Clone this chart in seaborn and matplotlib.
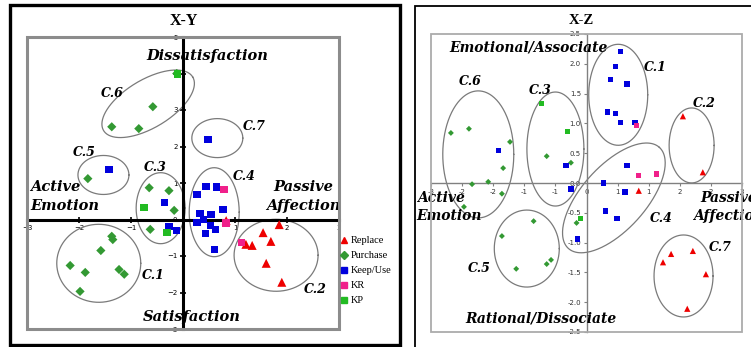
import matplotlib
matplotlib.use("Agg")
import matplotlib.pyplot as plt
from matplotlib.patches import Rectangle
from matplotlib.lines import Line2D
import numpy as np
import pandas as pd
import seaborn as sns

# ---------------- X-Y panel data ----------------
xy_replace_x = [0.83, 1.85, 1.54, 1.69, 1.21, 1.33, 1.60, 1.90]
xy_replace_y = [-0.03, -0.14, -0.36, -0.60, -0.68, -0.71, -1.20, -1.72]
xy_purchase_x = [-0.12, -0.58, -1.37, -0.85, -1.83, -0.65, -0.27, -0.17, -0.63,
                 -1.37, -1.35, -1.58, -2.17, -1.88, -1.23, -1.13, -1.98]
xy_purchase_y = [4.00, 3.09, 2.54, 2.49, 1.12, 0.87, 0.79, 0.25, -0.27,
                 -0.46, -0.55, -0.85, -1.26, -1.45, -1.37, -1.50, -1.97]
xy_keep_x = [0.48, -1.42, -0.35, -0.27, -0.13, 0.27, 0.44, 0.64, 0.77, 0.33,
             0.54, 0.39, 0.27, 0.53, 0.63, 0.43, 0.60]
xy_keep_y = [2.19, 1.37, 0.46, -0.19, -0.30, 0.69, 0.90, 0.89, 0.27, 0.16,
             0.14, 0.00, -0.08, -0.17, -0.27, -0.38, -0.82]
xy_kr_x = [0.79, 0.83, 1.12]
xy_kr_y = [0.82, -0.10, -0.63]
xy_kp_x = [-0.10, -0.75, -0.31]
xy_kp_y = [3.99, 0.33, -0.36]

# ---------------- X-Z panel data ----------------
xz_replace_x = [1.55, 1.87, 0.84, 1.36, 1.23, 1.71, 1.92, 1.62]
xz_replace_z = [1.12, 0.18, -0.13, -1.19, -1.33, -1.14, -1.53, -2.11]
xz_purchase_x = [-2.18, -1.89, -1.23, -1.34, -1.58, -1.84, -1.36, -1.97,
                 -0.64, -0.25, -0.16, -0.85, -1.36, -1.13, -0.64, -0.57]
xz_purchase_z = [0.84, 0.91, 0.69, 0.25, 0.02, -0.02, -0.18, -0.40,
                 0.45, 0.34, -0.67, -0.64, -0.89, -1.44, -1.36, -1.29]
xz_keep_x = [0.55, 0.46, 0.39, 0.65, 0.34, 0.46, 0.55, 0.78, -1.42, -0.33,
             -0.25, 0.65, 0.27, 0.62, 0.30, 0.49, -0.14]
xz_keep_z = [2.21, 1.96, 1.74, 1.66, 1.19, 1.16, 1.01, 1.01, 0.55, 0.29,
             -0.10, 0.29, 0.00, -0.15, -0.47, -0.59, -0.94]
xz_kr_x = [0.80, 0.84, 1.12]
xz_kr_z = [0.97, 0.12, 0.15]
xz_kp_x = [-0.72, -0.30, -0.10]
xz_kp_z = [1.34, 0.87, -0.59]

series_names = ["Replace", "Purchase", "Keep/Use", "KR", "KP"]
xz_xtick_labels = ["-3", "-2", "-2", "-1", "-1", "0", "1", "1", "2", "2", "3"]
xz_ytick_labels = ["-2.5", "-2.0", "-1.5", "-1.0", "-0.5", "0.0",
                   "0.5", "1.0", "1.5", "2.0", "2.5"]

palette = {"Replace": "#EE0000", "Purchase": "#339933", "Keep/Use": "#0000DD",
           "KR": "#F0208A", "KP": "#22BB22"}
markers = {"Replace": "^", "Purchase": "D", "Keep/Use": "s", "KR": "s", "KP": "s"}


def make_df(xs, ys):
    rows = []
    for name, x, y in zip(series_names, xs, ys):
        rows.append(pd.DataFrame({"x": x, "y": y, "series": name}))
    return pd.concat(rows, ignore_index=True)


df_xy = make_df([xy_replace_x, xy_purchase_x, xy_keep_x, xy_kr_x, xy_kp_x],
                [xy_replace_y, xy_purchase_y, xy_keep_y, xy_kr_y, xy_kp_y])
df_xz = make_df([xz_replace_x, xz_purchase_x, xz_keep_x, xz_kr_x, xz_kp_x],
                [xz_replace_z, xz_purchase_z, xz_keep_z, xz_kr_z, xz_kp_z])

W, H = 751, 347
fig = plt.figure(figsize=(W / 100, H / 100), dpi=100, facecolor="white")


def px_rect(l, t, r, b):
    return [l / W, 1 - b / H, (r - l) / W, (b - t) / H]


ax1 = fig.add_axes(px_rect(27, 37, 339, 329))
ax2 = fig.add_axes(px_rect(431, 34, 742, 332))

# outer panel borders
fig.patches.append(Rectangle((10 / W, 1 - 345 / H), 390 / W, 340 / H, transform=fig.transFigure,
                             fill=False, lw=2.4, ec="black", zorder=0))
fig.patches.append(Rectangle((415 / W, 1 - 400 / H), 400 / W, 394 / H, transform=fig.transFigure,
                             fill=False, lw=1.3, ec="black", zorder=0))


def draw_points(ax, df, sizes):
    sns.scatterplot(data=df, x="x", y="y", hue="series", style="series", size="series",
                    hue_order=series_names, style_order=series_names, size_order=series_names,
                    palette=palette, markers=markers, sizes=sizes, linewidth=0,
                    legend=False, ax=ax, zorder=3)


def draw_ellipse(ax, cx, cy, a, b, ang=0):
    t = np.linspace(0, 2 * np.pi, 240)
    c = ax.transData.transform((cx, cy))
    th = np.deg2rad(ang)
    px = c[0] + a * np.cos(t) * np.cos(th) - b * np.sin(t) * np.sin(th)
    py = c[1] + a * np.cos(t) * np.sin(th) + b * np.sin(t) * np.cos(th)
    pts = ax.transData.inverted().transform(np.column_stack([px, py]))
    ax.plot(pts[:, 0], pts[:, 1], color="#7a7a7a", lw=0.9, zorder=2)


def setup_axes(ax, axis_color, axis_lw, frame_color, frame_lw):
    for s in ["top", "right"]:
        ax.spines[s].set_visible(False)
    for s in ["left", "bottom"]:
        ax.spines[s].set_position(("data", 0))
        ax.spines[s].set_color(axis_color)
        ax.spines[s].set_linewidth(axis_lw)
    ax.add_patch(Rectangle((0, 0), 1, 1, transform=ax.transAxes, fill=False,
                           ec=frame_color, lw=frame_lw, zorder=5, clip_on=False))
    ax.set_xlabel("")
    ax.set_ylabel("")


serif_bi = dict(family="DejaVu Serif", weight="bold", style="italic")

# ---------------- X-Y ----------------
ax1.set_xlim(-3, 3)
ax1.set_ylim(-3, 5)
draw_points(ax1, df_xy, {"Replace": 42, "Purchase": 22, "Keep/Use": 28, "KR": 28, "KP": 28})
setup_axes(ax1, "black", 2.2, "#8c8c8c", 2.2)
ax1.set_xlim(-3, 3)
ax1.set_ylim(-3, 5)
ax1.set_xticks([-3, -2, -1, 1, 2, 3])
ax1.set_yticks(range(-3, 6))
ax1.tick_params(axis="both", direction="inout", length=4, width=1.2, labelsize=5, pad=2)

for cx, cy, a, b, ang in [(-0.67, 3.17, 52, 24, 31), (0.66, 2.23, 25.5, 19.5, 0),
                          (-1.53, 1.22, 25.5, 19.5, 0), (-0.43, 0.31, 24.5, 35.5, 0),
                          (0.60, 0.20, 25, 44.5, 0), (1.79, -0.98, 42, 36, 0),
                          (-1.62, -1.20, 42, 39, 0)]:
    draw_ellipse(ax1, cx, cy, a, b, ang)

for lab, x, y in [("C.6", -1.35, 3.44), ("C.5", -1.90, 1.83), ("C.3", -0.54, 1.42),
                  ("C.7", 1.38, 2.54), ("C.4", 1.17, 1.17), ("C.2", 2.54, -1.91),
                  ("C.1", -0.58, -1.53)]:
    ax1.text(x, y, lab, fontsize=9, ha="center", va="center", zorder=6, **serif_bi)

ax1.text(0.46, 4.48, "Dissatisfaction", fontsize=10.5, ha="center", va="center", **serif_bi)
ax1.text(0.17, -2.68, "Satisfaction", fontsize=10.5, ha="center", va="center", **serif_bi)
ax1.text(-2.94, 0.63, "Active\nEmotion", fontsize=10.5, ha="left", va="center",
         linespacing=1.5, **serif_bi)
ax1.text(2.31, 0.63, "Passive\nAffection", fontsize=10.5, ha="center", va="center",
         linespacing=1.5, multialignment="center", clip_on=True, **serif_bi)
fig.text(184 / W, 1 - 21 / H, "X-Y", fontsize=11.5, ha="center", va="center",
         family="Liberation Serif", weight="bold")

handles = [Line2D([], [], ls="", marker=markers[n], color=palette[n],
                  markersize=5 if n == "Replace" else 4.2) for n in series_names]
fig.legend(handles, series_names, loc="upper left", bbox_to_anchor=(341 / W, 1 - 236 / H),
           frameon=False, prop={"family": "Liberation Serif", "size": 7.5},
           handlelength=0.6, handletextpad=0.3, labelspacing=0.55, borderaxespad=0, borderpad=0)

# ---------------- X-Z ----------------
ax2.set_xlim(-2.5, 2.5)
ax2.set_ylim(-2.5, 2.5)
draw_points(ax2, df_xz, {"Replace": 20, "Purchase": 9, "Keep/Use": 14, "KR": 14, "KP": 14})
setup_axes(ax2, "#808080", 1.0, "#ababab", 1.3)
ax2.set_xlim(-2.5, 2.5)
ax2.set_ylim(-2.5, 2.5)
ax2.set_xticks(np.linspace(-2.5, 2.5, 11))
ax2.set_xticklabels(xz_xtick_labels)
ax2.set_yticks(np.linspace(-2.5, 2.5, 11))
ax2.set_yticklabels(xz_ytick_labels)
ax2.tick_params(axis="both", direction="out", length=2.5, width=0.8, color="#808080",
                labelsize=5, labelcolor="#333333", pad=1.5)

for cx, cy, a, b, ang in [(0.51, 1.48, 29.5, 50.5, 0), (1.69, 0.63, 22.5, 37.5, 0),
                          (-1.74, 0.48, 35.5, 63.5, 0), (-0.50, 0.57, 28.5, 57, 0),
                          (-0.96, -1.10, 32.5, 38.5, 0), (1.56, -1.56, 29.5, 41, 0),
                          (0.44, -0.25, 68, 32, 48)]:
    draw_ellipse(ax2, cx, cy, a, b, ang)

for lab, x, y in [("C.6", -1.87, 1.71), ("C.3", -0.75, 1.56), ("C.1", 1.10, 1.93),
                  ("C.2", 1.89, 1.33), ("C.4", 1.20, -0.59), ("C.7", 2.15, -1.09),
                  ("C.5", -1.73, -1.43)]:
    ax2.text(x, y, lab, fontsize=9, ha="center", va="center", zorder=6, **serif_bi)

ax2.text(-0.94, 2.27, "Emotional/Associate", fontsize=10, ha="center", va="center", **serif_bi)
ax2.text(-0.73, -2.28, "Rational/Dissociate", fontsize=10, ha="center", va="center", **serif_bi)
ax2.text(-2.73, -0.40, "Active\nEmotion", fontsize=10, ha="left", va="center",
         linespacing=1.4, **serif_bi)
ax2.text(2.29, -0.40, "Passive\nAffection", fontsize=10, ha="center", va="center",
         linespacing=1.4, multialignment="center", **serif_bi)
fig.text(581 / W, 1 - 20 / H, "X-Z", fontsize=10.5, ha="center", va="center",
         family="Liberation Serif", weight="bold")

fig.savefig("out.png", dpi=100, facecolor="white")
